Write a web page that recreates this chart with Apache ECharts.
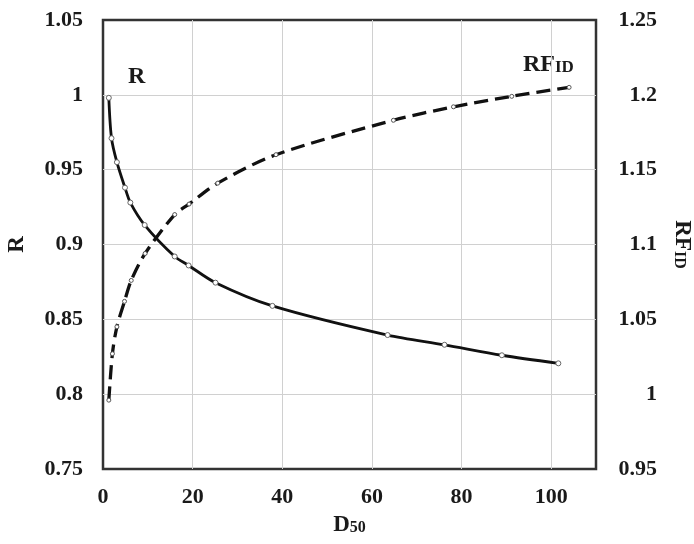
<!DOCTYPE html>
<html>
<head>
<meta charset="utf-8">
<script src="https://cdn.jsdelivr.net/npm/echarts@6/dist/echarts.min.js"></script>
<style>
  html, body { margin: 0; padding: 0; background: #fff; }
  #chart { width: 694px; height: 544px; }
</style>
</head>
<body>
<div id="chart"></div>
<script>
// D50 values and R values (solid line, left axis)
var dR = [1.3, 1.9, 3.1, 4.9, 6.1, 9.3, 16, 19.1, 25.1, 37.8, 63.5, 76.2, 89, 101.6];
var rValues = [0.998, 0.971, 0.955, 0.938, 0.928, 0.913, 0.892, 0.886, 0.8745, 0.859, 0.8395, 0.833, 0.826, 0.8206];
// D50 values and RF_ID values (dashed line, right axis)
var dRF = [1.3, 2.1, 3.1, 4.8, 6.3, 9.4, 16, 19.2, 25.6, 38.6, 64.8, 78.2, 91.2, 104];
var rfValues = [0.996, 1.027, 1.045, 1.062, 1.076, 1.094, 1.12, 1.127, 1.141, 1.16, 1.183, 1.192, 1.199, 1.205];
// tick settings
var xTicks = { min: 0, max: 110, interval: 20 };
var rTicks = { min: 0.75, max: 1.05, interval: 0.05 };
var rfTicks = { min: 0.95, max: 1.25, interval: 0.05 };

function pairs(xs, ys) { return xs.map(function (x, i) { return [x, ys[i]]; }); }

var font = 'Liberation Serif';
var ink = '#1a1a1a';
var labelStyle = { fontFamily: font, fontWeight: 'bold', fontSize: 22, color: ink };
function richName(big, small) {
  return { rich: {
    a: { fontFamily: font, fontWeight: 'bold', fontSize: big, color: ink, verticalAlign: 'bottom' },
    b: { fontFamily: font, fontWeight: 'bold', fontSize: small, color: ink, verticalAlign: 'bottom', padding: [0, 0, 1, 0] }
  } };
}

var chart = echarts.init(document.getElementById('chart'), null, { renderer: 'canvas' });
chart.setOption({
  animation: false,
  backgroundColor: '#fff',
  grid: { left: 103, right: 98, top: 20, bottom: 75, outerBoundsMode: 'none', containLabel: false,
          show: true, borderColor: '#333', borderWidth: 2.5, backgroundColor: 'transparent' },
  xAxis: {
    type: 'value', min: xTicks.min, max: xTicks.max, interval: xTicks.interval,
    axisLine: { show: false }, axisTick: { show: false },
    axisLabel: Object.assign({ margin: 17, showMaxLabel: false }, labelStyle),
    splitLine: { show: true, showMinLine: false, showMaxLine: false, lineStyle: { color: '#d0d0d0', width: 1 } },
    name: '{a|D}{b|50}', nameLocation: 'middle', nameGap: 45,
    nameTextStyle: richName(23, 16)
  },
  yAxis: [{
    type: 'value', position: 'left', min: rTicks.min, max: rTicks.max, interval: rTicks.interval,
    axisLine: { show: false }, axisTick: { show: false },
    axisLabel: Object.assign({ margin: 20, formatter: function (v) { return String(+v.toFixed(2)); } }, labelStyle),
    splitLine: { show: true, showMinLine: false, showMaxLine: false, lineStyle: { color: '#d0d0d0', width: 1 } },
    name: 'R', nameLocation: 'middle', nameGap: 74,
    nameTextStyle: { fontFamily: font, fontWeight: 'bold', fontSize: 23, color: ink }
  }, {
    type: 'value', position: 'right', min: rfTicks.min, max: rfTicks.max, interval: rfTicks.interval,
    axisLine: { show: false }, axisTick: { show: false },
    axisLabel: Object.assign({ margin: 61, align: 'right', formatter: function (v) { return String(+v.toFixed(2)); } }, labelStyle),
    splitLine: { show: false },
    name: '{a|RF}{b|ID}', nameLocation: 'middle', nameGap: 74, nameRotate: -90,
    nameTextStyle: richName(23, 16)
  }],
  graphic: [
    { type: 'text', left: 128, top: 65, style: { text: 'R', fontFamily: font, fontWeight: 'bold', fontSize: 24, fill: ink } },
    { type: 'text', left: 523, top: 53, style: { text: '{a|RF}{b|ID}', rich: {
        a: { fontFamily: font, fontWeight: 'bold', fontSize: 24, fill: ink, verticalAlign: 'bottom' },
        b: { fontFamily: font, fontWeight: 'bold', fontSize: 17, fill: ink, verticalAlign: 'bottom', padding: [0, 0, 1, 0] } } } }
  ],
  series: [{
    name: 'R', type: 'line', yAxisIndex: 0, data: pairs(dR, rValues),
    smooth: 0.3,
    lineStyle: { color: '#111', width: 2.8 },
    symbol: 'circle', symbolSize: 5,
    itemStyle: { color: '#fff', borderColor: '#666', borderWidth: 1 }, z: 3
  }, {
    name: 'RFID', type: 'line', yAxisIndex: 1, data: pairs(dRF, rfValues),
    smooth: 0.3,
    lineStyle: { color: '#111', width: 3.3, type: [14, 7] },
    symbol: 'circle', symbolSize: 4,
    itemStyle: { color: '#fff', borderColor: '#555', borderWidth: 1 }, z: 2
  }]
});
</script>
</body>
</html>
